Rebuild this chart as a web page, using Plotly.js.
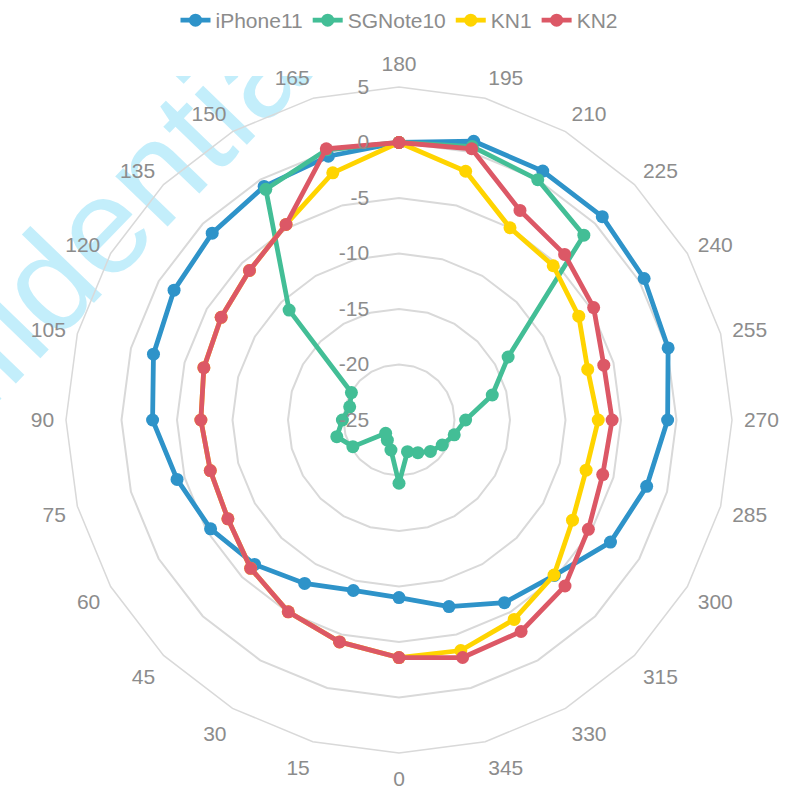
<!DOCTYPE html>
<html>
<head>
<meta charset="utf-8">
<script src="https://cdn.plot.ly/plotly-3.0.1.min.js"></script>
<style>
  html, body { margin: 0; padding: 0; background: #ffffff; }
  #wrap { position: relative; width: 795px; height: 801px; overflow: hidden; }
  #wm { position: absolute; left: 0; top: 76px; width: 795px; height: 725px; overflow: hidden; }
  #plot { position: absolute; left: 0; top: 0; width: 795px; height: 801px; }
</style>
</head>
<body>
<div id="wrap">
  <div id="wm">
    <svg width="795" height="725" xmlns="http://www.w3.org/2000/svg">
      <text x="-167" y="497" transform="rotate(-46 -167 497)" font-family="Liberation Sans, Arial, sans-serif" font-size="137" fill="#c3eefb">Confidential</text>
    </svg>
  </div>
  <div id="plot"></div>
</div>
<script>
const categories = ['180','195','210','225','240','255','270','285','300','315','330','345',
                    '0','15','30','45','60','75','90','105','120','135','150','165'];

const iPhone11 = [0, 1.0, 0.9, 0.9, 0.5, 0.1, -0.8, -1.9, -3.0, -5.2, -6.0, -7.6,
                  -9.0, -9.1, -8.0, -6.6, -5.4, -4.3, -2.8, -2.1, -1.6, -1.2, -0.7, -0.4];

const SGNote10 = [0, 0.5, 0.0, -1.45, -13.65, -16.3, -19.0, -19.85, -20.5, -21.0, -21.6, -22.05,
                  -19.3, -22.2, -22.9, -23.3, -20.2, -19.2, -19.9, -20.4, -20.05, -11.0, -1.0, 0.2];

const KN1 = [0, -1.8, -5.0, -5.35, -6.3, -7.4, -7.05, -7.55, -6.95, -5.25, -4.25, -3.5,
             -3.6, -4.3, -5.05, -6.1, -7.2, -7.4, -7.15, -6.8, -6.5, -5.95, -4.65, -1.95];

const KN2 = [0, 0.3, -3.2, -3.9, -4.75, -5.9, -5.8, -6.0, -5.3, -3.85, -3.0, -2.85,
             -3.6, -4.3, -5.05, -6.1, -7.2, -7.4, -7.15, -6.8, -6.5, -5.95, -4.65, 0.3];

const radialTickVals = [-25, -20, -15, -10, -5, 0, 5];
const radialTickText = ['-25', '-20', '-15', '-10', '-5', '0', '5'];

const seriesNames = ['iPhone11', 'SGNote10', 'KN1', 'KN2'];
const seriesValues = [iPhone11, SGNote10, KN1, KN2];
const seriesColors = ['#2E93C9', '#43BE96', '#FFD400', '#DC5866'];

const closeLoop = arr => arr.concat([arr[0]]);

const traces = seriesNames.map((name, i) => ({
  type: 'scatterpolar',
  name: name,
  mode: 'lines+markers',
  theta: closeLoop(categories),
  r: closeLoop(seriesValues[i]),
  cliponaxis: true,
  line: { color: seriesColors[i], width: 4.8 },
  marker: { color: seriesColors[i], size: 13, symbol: 'circle', opacity: 1 }
}));

const textGray = '#8c8c8c';
const gridGray = '#d9d9d9';

const layout = {
  width: 795,
  height: 801,
  margin: { l: 66, r: 63, t: 87, b: 48 },
  paper_bgcolor: 'rgba(0,0,0,0)',
  plot_bgcolor: 'rgba(0,0,0,0)',
  font: { family: 'Liberation Sans, Arial, sans-serif', size: 21, color: textGray },
  showlegend: true,
  legend: {
    orientation: 'h',
    x: 0.5, xanchor: 'center',
    yref: 'container', y: 1.0, yanchor: 'top',
    font: { size: 21, color: textGray },
    bgcolor: 'rgba(0,0,0,0)'
  },
  polar: {
    domain: { x: [0, 1], y: [0, 1] },
    bgcolor: 'rgba(0,0,0,0)',
    gridshape: 'linear',
    angularaxis: {
      type: 'category',
      categoryorder: 'array',
      categoryarray: categories,
      rotation: 90,
      direction: 'clockwise',
      showgrid: false,
      showline: true,
      linecolor: gridGray,
      linewidth: 1.5,
      ticks: 'outside',
      ticklen: 7,
      tickcolor: 'rgba(0,0,0,0)',
      tickfont: { size: 21, color: textGray }
    },
    radialaxis: {
      range: [-25, 5],
      tickmode: 'array',
      tickvals: radialTickVals,
      ticktext: radialTickText,
      angle: 90,
      tickangle: 90,
      side: 'counterclockwise',
      showline: false,
      ticks: 'outside',
      ticklen: 22,
      tickcolor: 'rgba(0,0,0,0)',
      showgrid: true,
      gridcolor: gridGray,
      gridwidth: 1.5,
      tickfont: { size: 21, color: textGray }
    }
  }
};

Plotly.newPlot('plot', traces, layout, { displayModeBar: false });
</script>
</body>
</html>
